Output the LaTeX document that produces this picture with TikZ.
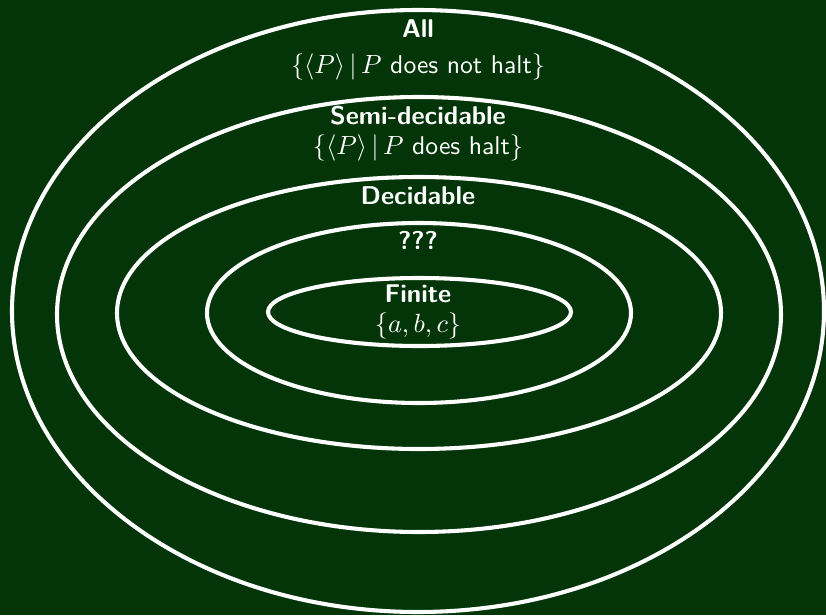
\documentclass[tikz,border=0pt]{standalone}
\usepackage{amsmath}
\usepackage{fontspec}
\usepackage{xcolor}
\definecolor{boardgreen}{RGB}{3,53,8}

\begin{document}
\begin{tikzpicture}[x=0.41667pt, y=-0.41667pt, ring/.style={draw=white, line width=1.7pt}, every node/.style={text=white, font=\sffamily\fontsize{10.7}{13}\selectfont}, heading/.style={font=\sffamily\bfseries\fontsize{10.7}{13}\selectfont}]
  \fill[boardgreen] (0,0) rectangle (826,615);
  \useasboundingbox (0,0) rectangle (826,615);
  \draw[ring] (418,311) ellipse [x radius=406, y radius=301];
  \draw[ring] (419,314.5) ellipse [x radius=362, y radius=217.5];
  \draw[ring] (419,313) ellipse [x radius=302, y radius=136];
  \draw[ring] (419,313) ellipse [x radius=212, y radius=90];
  \draw[ring] (419.5,312) ellipse [x radius=151.5, y radius=34];
  \node[heading] (all) at (418,29) {All};
  \node (allset) at (418,67) {$\{\langle P\rangle\,|\,P \text{ does not halt}\}$};
  \node[heading] (semi) at (418,116) {Semi-decidable};
  \node (semiset) at (418,148) {$\{\langle P\rangle\,|\,P \text{ does halt}\}$};
  \node[heading] (dec) at (418,196) {Decidable};
  \node[heading] (unknown) at (418,240) {???};
  \node[heading] (finite) at (418,294) {Finite};
  \node (finiteset) at (418,326) {$\{a,b,c\}$};
\end{tikzpicture}
\end{document}
